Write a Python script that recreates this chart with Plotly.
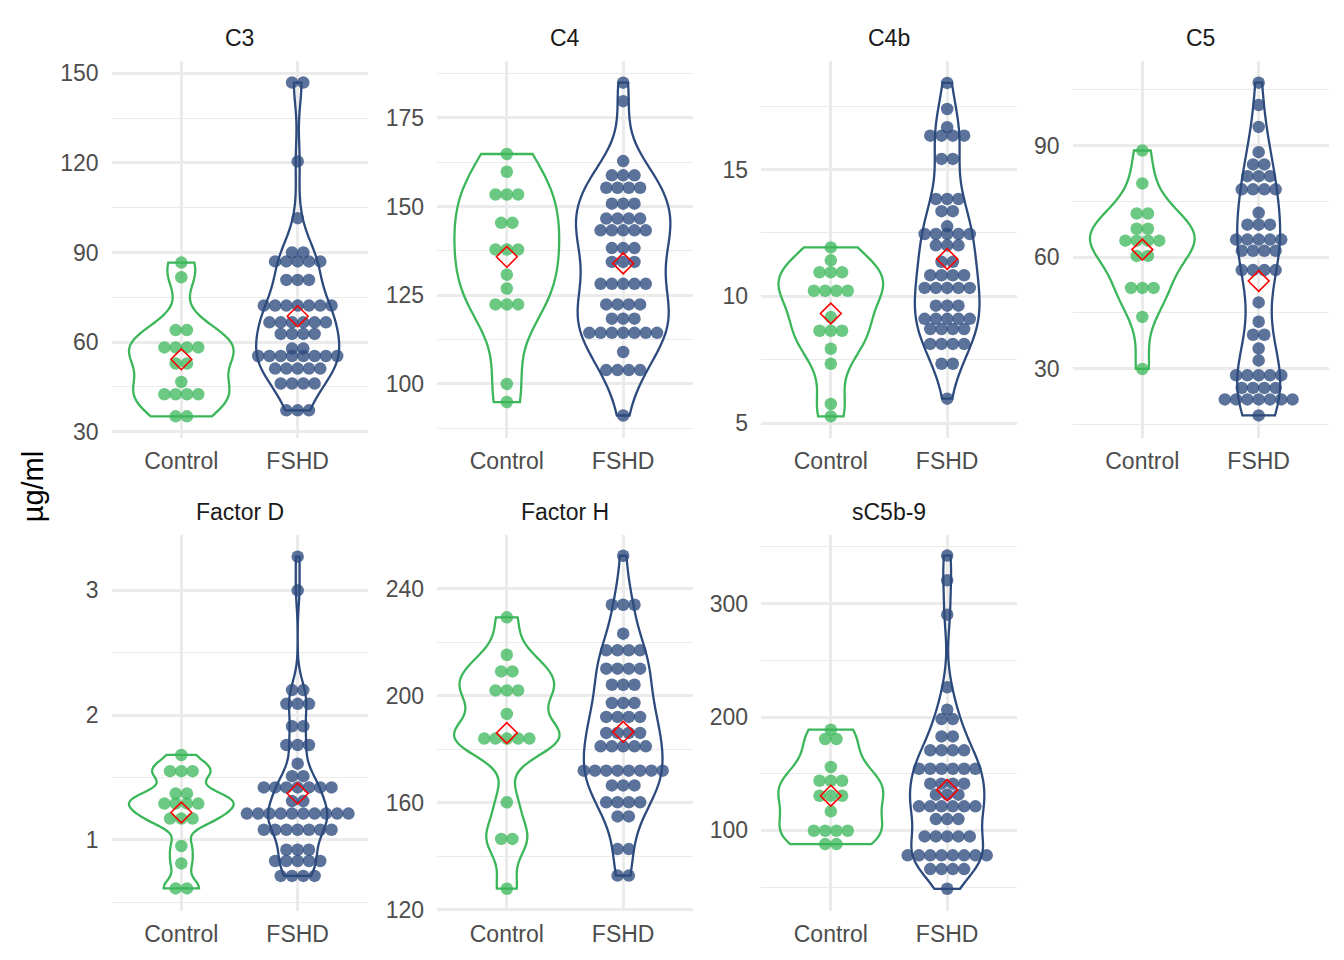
import numpy as np
import plotly.graph_objects as go

# ---------------- data (µg/ml) ----------------
PANELS = ["C3", "C4", "C4b", "C5", "Factor D", "Factor H", "sC5b-9"]
GROUPS = ["Control", "FSHD"]

C3_CTRL = [86.6, 81.7, 64.0, 64.0, 58.2, 58.2, 58.2, 58.2, 52.8, 52.8, 46.6,
           42.5, 42.5, 42.5, 42.5, 35.1, 35.1]
C3_FSHD = [146.9, 146.9, 120.5, 101.5, 90.0, 90.0,
           87.0, 87.0, 87.0, 87.0, 87.0, 80.8, 80.8, 80.8,
           72.2, 72.2, 72.2, 72.2, 72.2, 72.2, 72.2,
           66.6, 66.6, 66.6, 66.6, 66.6, 66.6, 62.7, 62.7, 62.7, 62.7,
           57.8, 57.8, 55.3, 55.3, 55.3, 55.3, 55.3, 55.3, 55.3, 55.3,
           51.1, 51.1, 51.1, 51.1, 51.1, 46.1, 46.1, 46.1, 46.1, 37.1, 37.1, 37.1]

C4_CTRL = [164.8, 159.8, 153.4, 153.4, 153.4, 145.4, 145.4, 137.9, 137.9, 137.9,
           130.8, 126.9, 122.4, 122.4, 122.4, 100.0, 94.9]
C4_FSHD = [184.9, 179.7, 162.8, 158.8, 158.8, 158.8, 155.3, 155.3, 155.3, 155.3,
           150.8, 150.8, 150.8, 146.6, 146.6, 146.6, 146.6,
           143.3, 143.3, 143.3, 143.3, 143.3, 138.3, 138.3, 138.3, 134.4, 134.4, 134.4,
           128.2, 128.2, 128.2, 128.2, 128.2, 122.4, 122.4, 122.4, 122.4,
           118.4, 118.4, 118.4, 114.4, 114.4, 114.4, 114.4, 114.4, 114.4, 114.4,
           109.0, 103.9, 103.9, 103.9, 103.9, 91.1]

C4B_CTRL = [11.93, 11.42, 10.95, 10.95, 10.95, 10.22, 10.22, 10.22, 10.22, 9.18,
            8.64, 8.64, 8.64, 7.93, 7.34, 5.75, 5.26]
C4B_FSHD = [18.42, 17.39, 16.67, 16.34, 16.34, 16.34, 16.34, 15.42, 15.42,
            13.84, 13.84, 13.84, 13.36, 13.36, 12.76,
            12.46, 12.46, 12.46, 12.46, 12.46, 12.01, 12.01, 12.01, 11.36, 11.36,
            10.83, 10.83, 10.83, 10.83, 10.33, 10.33, 10.33, 10.33, 10.33,
            9.63, 9.63, 9.63, 9.11, 9.11, 9.11, 9.11, 9.11, 8.71, 8.71, 8.71, 8.71,
            8.12, 8.12, 8.12, 8.12, 7.34, 7.34, 5.96]

C5_CTRL = [88.65, 79.8, 71.7, 71.7, 67.6, 67.6, 64.4, 64.4, 64.4, 64.4, 60.3, 60.3,
           51.7, 51.7, 51.7, 43.9, 29.9]
C5_FSHD = [106.9, 100.9, 95.0, 88.2, 84.9, 84.9, 81.75, 81.75, 81.75,
           78.2, 78.2, 78.2, 78.2, 71.9, 68.7, 68.7, 68.7,
           64.7, 64.7, 64.7, 64.7, 64.7, 61.7, 61.7, 61.7, 61.7, 56.5, 56.5, 56.5, 56.5,
           47.8, 42.6, 39.1, 39.1, 35.4, 32.2, 28.2, 28.2, 28.2, 28.2, 28.2,
           24.8, 24.8, 24.8, 24.8, 21.7, 21.7, 21.7, 21.7, 21.7, 21.7, 21.7, 17.4]

FD_CTRL = [1.68, 1.55, 1.55, 1.55, 1.37, 1.37, 1.29, 1.29, 1.29, 1.29,
           1.17, 1.17, 1.17, 0.95, 0.81, 0.61, 0.61]
FD_FSHD = [3.27, 3.00, 2.20, 2.20, 2.09, 2.09, 2.09, 1.91, 1.91, 1.76, 1.76, 1.76,
           1.61, 1.51, 1.51, 1.42, 1.42, 1.42, 1.42, 1.42, 1.42, 1.42, 1.31, 1.31,
           1.21, 1.21, 1.21, 1.21, 1.21, 1.21, 1.21, 1.21, 1.21, 1.21,
           1.08, 1.08, 1.08, 1.08, 1.08, 1.08, 1.08, 0.92, 0.92, 0.92,
           0.83, 0.83, 0.83, 0.83, 0.83, 0.71, 0.71, 0.71, 0.71]

FH_CTRL = [229.3, 215.3, 209.1, 209.1, 202.0, 202.0, 202.0, 193.2,
           184.0, 184.0, 184.0, 184.0, 184.0, 160.2, 146.5, 146.5, 127.9]
FH_FSHD = [252.3, 234.0, 234.0, 234.0, 223.2, 217.0, 217.0, 217.0, 217.0,
           210.1, 210.1, 210.1, 210.1, 204.1, 204.1, 204.1, 197.3, 197.3, 197.3,
           192.1, 192.1, 192.1, 192.1, 186.1, 186.1, 186.1, 186.1,
           181.1, 181.1, 181.1, 181.1, 181.1,
           172.0, 172.0, 172.0, 172.0, 172.0, 172.0, 172.0, 172.0,
           166.5, 166.5, 166.5, 160.2, 160.2, 160.2, 160.2, 154.9, 154.9,
           142.7, 142.7, 132.8, 132.8]

SC_CTRL = [188.8, 180.6, 180.6, 155.9, 143.8, 143.8, 143.8, 130.6, 130.6, 130.6,
           116.8, 99.7, 99.7, 99.7, 99.7, 87.9, 87.9]
SC_FSHD = [342.4, 320.6, 290.3, 226.2, 206.5, 198.2, 198.2, 182.9, 182.9,
           170.6, 170.6, 170.6, 170.6, 154.4, 154.4, 154.4, 154.4, 154.4, 154.4,
           141.2, 141.2, 141.2, 141.2, 131.5, 131.5, 131.5,
           121.2, 121.2, 121.2, 121.2, 121.2, 121.2, 110.0, 110.0, 110.0,
           94.7, 94.7, 94.7, 94.7, 94.7, 78.0, 78.0, 78.0, 78.0, 78.0, 78.0, 78.0, 78.0,
           65.9, 65.9, 65.9, 65.9, 48.5]

DATA = {
    "C3": (C3_CTRL, C3_FSHD),
    "C4": (C4_CTRL, C4_FSHD),
    "C4b": (C4B_CTRL, C4B_FSHD),
    "C5": (C5_CTRL, C5_FSHD),
    "Factor D": (FD_CTRL, FD_FSHD),
    "Factor H": (FH_CTRL, FH_FSHD),
    "sC5b-9": (SC_CTRL, SC_FSHD),
}

Y_TICKS = {
    "C3": [30, 60, 90, 120, 150],
    "C4": [100, 125, 150, 175],
    "C4b": [5, 10, 15],
    "C5": [30, 60, 90],
    "Factor D": [1, 2, 3],
    "Factor H": [120, 160, 200, 240],
    "sC5b-9": [100, 200, 300],
}
Y_MINOR = {
    "C3": [45, 75, 105, 135],
    "C4": [87.5, 112.5, 137.5, 162.5, 187.5],
    "C4b": [7.5, 12.5, 17.5],
    "C5": [15, 45, 75, 105],
    "Factor D": [0.5, 1.5, 2.5],
    "Factor H": [140, 180, 220, 260],
    "sC5b-9": [50, 150, 250, 350],
}
Y_RANGE = {
    "C3": [27.85, 154.1],
    "C4": [84.77, 190.98],
    "C4b": [4.41, 19.28],
    "C5": [11.34, 112.69],
    "Factor D": [0.425, 3.447],
    "Factor H": [119.4, 260.2],
    "sC5b-9": [28.5, 360.9],
}

# ---------------- style ----------------
OFF = 8          # page body margin in the browser
SY = 0.987       # vertical factor observed between page and photo
W, H = 1344 - 2 * OFF, 960 - OFF
LINE_COL = {"Control": "#3BB75A", "FSHD": "#2D4A7D"}
DOT_COL = {"Control": "rgba(59,183,90,0.75)", "FSHD": "rgba(45,74,125,0.78)"}
FONT = "Liberation Sans, Arial, Helvetica, sans-serif"
GRID = "#EBEBEB"
DOT_SPACING = 0.097  # horizontal spacing of stacked dots, in x units
MAX_WIDTH = 0.9

# panel pixel boxes in the reference (left, right) and (top, bottom)
COLS_X = [(111.5, 367.5), (437.0, 693.0), (761.0, 1017.0), (1072.5, 1328.5)]
ROWS_Y = [(60.0, 436.7), (533.3, 910.0)]


def px_x(p):
    return (p - OFF) / W


def px_y(p):
    return 1 - (p / SY - OFF) / H


def bw_nrd0(v):
    v = np.asarray(v, float)
    sd = np.std(v, ddof=1)
    q75, q25 = np.percentile(v, [75, 25])
    lo = min(sd, (q75 - q25) / 1.34)
    if lo <= 0:
        lo = sd if sd > 0 else 1.0
    return 0.9 * lo * len(v) ** (-0.2)


def kde_peak(v, bw):
    v = np.asarray(v, float)
    grid = np.linspace(v.min(), v.max(), 512)
    d = np.exp(-0.5 * ((grid[:, None] - v[None, :]) / bw) ** 2).sum(axis=1)
    d /= len(v) * bw * np.sqrt(2 * np.pi)
    return d.max()


def stack_offsets(v):
    counts = {}
    for val in v:
        counts[val] = counts.get(val, 0) + 1
    seen = {}
    out = []
    for val in v:
        k = seen.get(val, 0)
        seen[val] = k + 1
        n = counts[val]
        out.append((k - (n - 1) / 2.0) * DOT_SPACING)
    return out


fig = go.Figure()
annotations = []
layout_axes = {}

for i, name in enumerate(PANELS):
    r, c = divmod(i, 4)
    xl, xr = COLS_X[c]
    yt, yb = ROWS_Y[r]
    ax = "" if i == 0 else str(i + 1)
    xref, yref = "x" + ax, "y" + ax

    ctrl, fshd = DATA[name]
    bws = [bw_nrd0(v) for v in (ctrl, fshd)]
    peaks = [kde_peak(v, b) for v, b in zip((ctrl, fshd), bws)]
    top = max(peaks)
    for gi, (grp, vals) in enumerate(zip(GROUPS, (ctrl, fshd))):
        fig.add_trace(go.Violin(
            y=vals, x0=gi, orientation="v", name=grp,
            xaxis=xref, yaxis=yref,
            line=dict(color=LINE_COL[grp], width=2.3),
            fillcolor="rgba(0,0,0,0)",
            points=False, spanmode="hard", bandwidth=bws[gi],
            scalegroup=name + grp, scalemode="width",
            width=MAX_WIDTH * peaks[gi] / top,
            box_visible=False, meanline_visible=False,
            hoverinfo="skip", showlegend=False,
        ))
    for gi, (grp, vals) in enumerate(zip(GROUPS, (ctrl, fshd))):
        xs = [gi + o for o in stack_offsets(vals)]
        fig.add_trace(go.Scatter(
            x=xs, y=vals, mode="markers", xaxis=xref, yaxis=yref,
            marker=dict(color=DOT_COL[grp], size=12.5, line=dict(width=0)),
            hoverinfo="skip", showlegend=False,
        ))
    fig.add_trace(go.Scatter(
        x=[0, 1], y=[float(np.mean(ctrl)), float(np.mean(fshd))],
        mode="markers", xaxis=xref, yaxis=yref,
        marker=dict(symbol="diamond-open", color="#FF0000", size=16,
                    line=dict(width=1.6, color="#FF0000")),
        hoverinfo="skip", showlegend=False,
    ))

    layout_axes["xaxis" + ax] = dict(
        domain=[px_x(xl), px_x(xr)], anchor=yref, range=[-0.6, 1.6],
        tickmode="array", tickvals=[0, 1], ticktext=GROUPS,
        showgrid=True, gridcolor=GRID, gridwidth=2.5,
        zeroline=False, showline=False, ticks="",
        tickfont=dict(family=FONT, size=23, color="#4D4D4D"),
        ticklabelstandoff=7, fixedrange=True,
    )
    layout_axes["yaxis" + ax] = dict(
        domain=[px_y(yb), px_y(yt)], anchor=xref, range=Y_RANGE[name],
        tickmode="array", tickvals=Y_TICKS[name],
        showgrid=True, gridcolor=GRID, gridwidth=2.5,
        minor=dict(tickmode="array", tickvals=Y_MINOR[name], showgrid=True,
                   gridcolor=GRID, gridwidth=1.3, ticks=""),
        zeroline=False, showline=False, ticks="",
        tickfont=dict(family=FONT, size=23, color="#4D4D4D"),
        ticklabelstandoff=12, fixedrange=True,
    )
    annotations.append(dict(
        text=name, x=px_x((xl + xr) / 2), y=px_y(yt - 23),
        xref="paper", yref="paper", xanchor="center", yanchor="middle",
        showarrow=False, font=dict(family=FONT, size=23, color="#1A1A1A"),
    ))

annotations.append(dict(
    text="µg/ml", x=px_x(33), y=px_y(485), xref="paper", yref="paper",
    xanchor="center", yanchor="middle", textangle=-90, showarrow=False,
    font=dict(family=FONT, size=29, color="#000000"),
))

fig.update_layout(
    width=W, height=H, margin=dict(l=0, r=0, t=0, b=0),
    paper_bgcolor="white", plot_bgcolor="white",
    showlegend=False, violinmode="overlay",
    annotations=annotations, **layout_axes,
)

fig.write_html("out.html")
